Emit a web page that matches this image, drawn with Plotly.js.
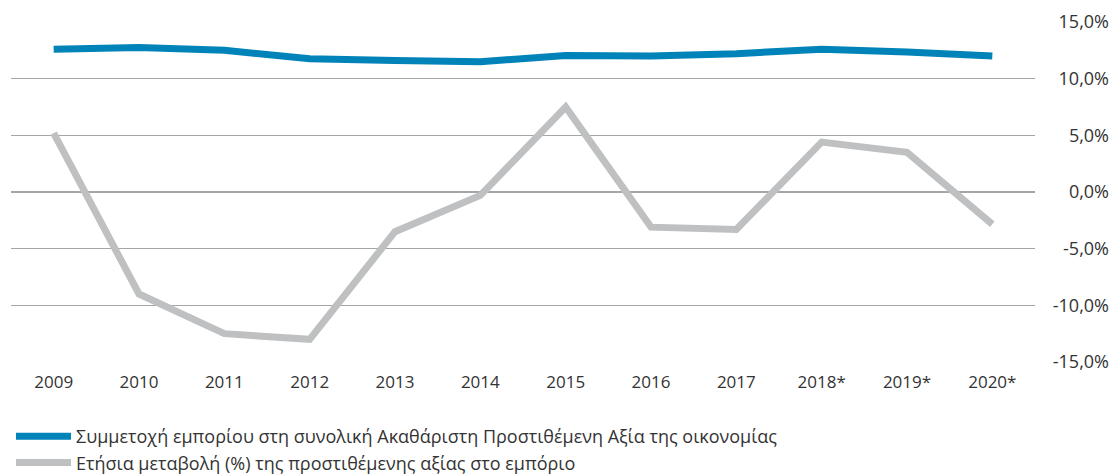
<!DOCTYPE html>
<html>
<head>
<meta charset="utf-8">
<script src="https://cdn.plot.ly/plotly-3.0.1.min.js"></script>
<style>html,body{margin:0;padding:0;background:#fff;}#chart{width:1113px;height:475px;}</style>
</head>
<body>
<div id="chart"></div>
<script>
const years = ["2009","2010","2011","2012","2013","2014","2015","2016","2017","2018*","2019*","2020*"];
const shareOfGVA = [12.6, 12.75, 12.5, 11.75, 11.6, 11.5, 12.05, 12.0, 12.2, 12.6, 12.35, 12.0];
const annualChange = [5.2, -9.0, -12.5, -13.0, -3.5, -0.3, 7.5, -3.1, -3.3, 4.4, 3.5, -2.85];
const seriesNames = [
  "Συμμετοχή εμπορίου στη συνολική Ακαθάριστη Προστιθέμενη Αξία της οικονομίας",
  "Ετήσια μεταβολή (%) της προστιθέμενης αξίας στο εμπόριο"
];
const yTickVals = [-15, -10, -5, 0, 5, 10, 15];
const yTickText = ["-15,0%", "-10,0%", "-5,0%", "0,0%", "5,0%", "10,0%", "15,0%"];

const font = "'Open Sans', 'Noto Sans', sans-serif";
const traces = [
  {x: years, y: shareOfGVA, name: seriesNames[0], legendgroup: "a", type: "scatter", mode: "lines",
   line: {color: "#0083B8", width: 7}},
  {x: years, y: annualChange, name: seriesNames[1], legendgroup: "b", type: "scatter", mode: "lines",
   line: {color: "#BFC0C2", width: 7}}
];
const layout = {
  width: 1113, height: 475,
  margin: {l: 11, r: 4, t: 22, b: 113, autoexpand: false},
  paper_bgcolor: "#fff", plot_bgcolor: "#fff",
  font: {family: font, color: "#333", size: 17},
  showlegend: true,
  legend: {orientation: "v", x: 0, xanchor: "left", yref: "container", y: 0.12, yanchor: "top",
           font: {size: 18, color: "#333"}, tracegroupgap: 0, itemwidth: 55},
  xaxis: {type: "category", domain: [0, 0.9326], range: [-0.5, 11.5], showgrid: false, zeroline: false,
          showline: false, ticks: "", tickfont: {size: 17, color: "#333"}, ticklabelstandoff: 8},
  yaxis: {anchor: "free", position: 1, side: "left", range: [-15, 15], tickvals: yTickVals, ticktext: yTickText,
          showgrid: true, gridcolor: "#A6A6A6", gridwidth: 1.3, zeroline: true,
          zerolinecolor: "#A6A6A6", zerolinewidth: 1.3, showline: false, ticks: "",
          tickfont: {size: 18, color: "#333"}, automargin: false}
};
Plotly.newPlot("chart", traces, layout, {displayModeBar: false, staticPlot: true});
</script>
</body>
</html>
